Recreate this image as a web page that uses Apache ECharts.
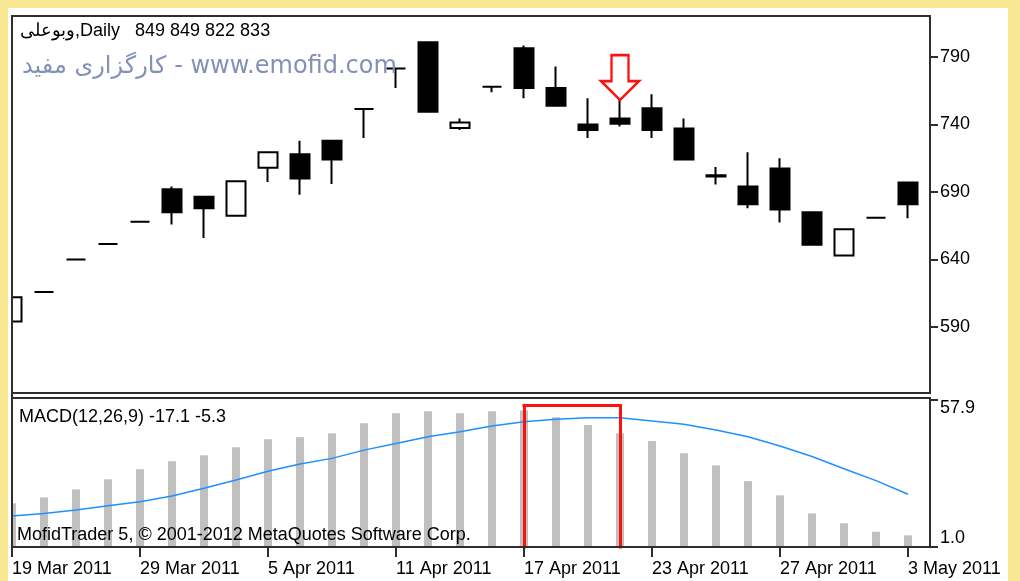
<!DOCTYPE html>
<html>
<head>
<meta charset="utf-8">
<script src="https://cdn.jsdelivr.net/npm/echarts@6/dist/echarts.min.js"></script>
<style>
  html, body { margin: 0; padding: 0; background: #f8e892; }
  #chart { width: 1020px; height: 581px; }
</style>
</head>
<body>
<div id="chart"></div>
<script>
// trading days shown on the chart
const dates = ['19 Mar 2011','20 Mar 2011','27 Mar 2011','28 Mar 2011','29 Mar 2011','30 Mar 2011',
  '3 Apr 2011','4 Apr 2011','5 Apr 2011','6 Apr 2011','9 Apr 2011','10 Apr 2011','11 Apr 2011',
  '12 Apr 2011','13 Apr 2011','16 Apr 2011','17 Apr 2011','18 Apr 2011','19 Apr 2011','20 Apr 2011',
  '23 Apr 2011','24 Apr 2011','25 Apr 2011','26 Apr 2011','27 Apr 2011','30 Apr 2011','1 May 2011',
  '2 May 2011','3 May 2011'];

// daily candles
const opens  = [594, 616, 640, 651.5, 668, 692, 686.5, 672.5, 708, 718, 728, 751.5, 781.5, 801, 737.5,
  768, 796.5, 767, 740, 744.5, 752, 737, 702.5, 694, 707.5, 675, 643, 671, 697];
const closes = [612, 616, 640, 651.5, 668, 675, 678, 698, 719.5, 700, 714, 751.5, 781.5, 749.5, 741.5,
  768, 767, 754, 736, 740.5, 736, 714, 701.5, 681, 677, 651, 662.5, 671, 681];
const lows   = [594, 616, 640, 651.5, 668, 666, 656, 672.5, 697.5, 688, 696, 730, 767, 749.5, 736,
  764, 759.5, 754, 730, 738.5, 730, 714, 695.5, 678, 667.5, 651, 643, 671, 670.5];
const highs  = [612, 616, 640, 651.5, 668, 694, 686.5, 698, 719.5, 728, 728, 751.5, 781.5, 801, 744.5,
  768, 798.5, 783, 759.5, 759, 762.5, 744.5, 708.5, 719.5, 715, 675, 662.5, 671, 697];

// MACD(12,26,9) panel
const macdHist   = [17.9, 20.2, 23.3, 27.2, 31.1, 34.2, 36.5, 39.6, 42.7, 43.5, 45.0, 48.9, 52.8, 53.5,
  52.8, 53.5, 53.8, 51.2, 48.2, 45.0, 42.0, 37.3, 32.6, 26.5, 21.0, 14.0, 10.2, 6.9, 5.5];
const macdSignal = [13.0, 14.0, 15.3, 17.0, 18.5, 20.7, 23.7, 26.9, 30.3, 33.1, 35.3, 38.5, 41.1, 43.7,
  45.6, 47.8, 49.5, 50.4, 51.0, 51.0, 49.8, 48.5, 46.3, 43.7, 40.1, 36.0, 31.3, 26.7, 21.4];

const priceTicks = [590, 640, 690, 740, 790];
const macdTicks = [1.0, 57.9];
const dateTicks = [0, 4, 8, 12, 16, 20, 24, 28];

const FONT = 'Liberation Sans, Arial, sans-serif';
const LINE = '#2e2e2e';
const RED = '#ff1010';

let candleData = opens.map((o, i) => [i, o, closes[i], lows[i], highs[i]]);
let histData = macdHist.map((v, i) => [i, v]);
let signalData = macdSignal.map((v, i) => [i, v]);

let chart = echarts.init(document.getElementById('chart'));

let option = {
  animation: false,
  backgroundColor: '#f8e892',
  graphic: [
    { type: 'rect', z: -10, shape: { x: 8, y: 8, width: 1000, height: 600 }, style: { fill: '#ffffff' } },
    // cover what sticks out left of the panels (first bar is only half inside)
    { type: 'rect', z: 90, shape: { x: 0, y: 16, width: 8, height: 540 }, style: { fill: '#f8e892' } },
    { type: 'rect', z: 90, shape: { x: 8, y: 16, width: 3, height: 540 }, style: { fill: '#ffffff' } },
    { type: 'line', z: 91, shape: { x1: 12, y1: 15, x2: 12, y2: 557 }, style: { stroke: LINE, lineWidth: 2 } },
    { type: 'text', z: 100, style: { x: 20, y: 31, text: 'وبوعلی,Daily   849 849 822 833',
        font: '18px ' + FONT, fill: '#000', verticalAlign: 'middle' } },
    { type: 'text', z: 100, style: { x: 22, y: 67, text: 'کارگزاری مفید - www.emofid.com',
        font: '24px DejaVu Sans, sans-serif', fill: '#8391b6', verticalAlign: 'middle' } },
    { type: 'text', z: 100, style: { x: 19, y: 417, text: 'MACD(12,26,9) -17.1 -5.3',
        font: '18px ' + FONT, fill: '#000', verticalAlign: 'middle' } },
    { type: 'text', z: 100, style: { x: 17, y: 535, text: 'MofidTrader 5, © 2001-2012 MetaQuotes Software Corp.',
        font: '18px ' + FONT, fill: '#000', verticalAlign: 'middle' } }
  ],
  grid: [
    { left: 12, right: 90, top: 16, height: 377, show: true, backgroundColor: '#fff',
      borderColor: LINE, borderWidth: 2 },
    { left: 12, right: 90, top: 398, height: 149, show: true, backgroundColor: '#fff',
      borderColor: LINE, borderWidth: 2 }
  ],
  xAxis: [
    { gridIndex: 0, type: 'value', min: 0, max: 28.6875,
      axisLine: { show: false }, axisTick: { show: false }, axisLabel: { show: false },
      splitLine: { show: false } },
    { gridIndex: 1, type: 'value', min: 0, max: 28.6875, z: 10,
      axisLine: { show: true, onZero: false, lineStyle: { color: LINE, width: 2 } },
      axisTick: { show: true, customValues: dateTicks, length: 10, lineStyle: { color: LINE, width: 2 } },
      axisLabel: { customValues: dateTicks, formatter: v => dates[v], align: 'left', margin: 13,
        color: '#000', fontSize: 18, fontFamily: FONT },
      splitLine: { show: false } }
  ],
  yAxis: [
    { gridIndex: 0, type: 'value', position: 'right', min: 541.1, max: 820.4, scale: true,
      axisLine: { show: true, onZero: false, lineStyle: { color: LINE, width: 2 } },
      axisTick: { show: true, customValues: priceTicks, length: 8, lineStyle: { color: LINE, width: 2 } },
      axisLabel: { customValues: priceTicks, margin: 10, color: '#000', fontSize: 18, fontFamily: FONT },
      splitLine: { show: false } },
    { gridIndex: 1, type: 'value', position: 'right', min: 1.0, max: 58.67,
      axisLine: { show: true, onZero: false, lineStyle: { color: LINE, width: 2 } },
      axisTick: { show: true, customValues: macdTicks, length: 8, lineStyle: { color: LINE, width: 2 } },
      axisLabel: { customValues: macdTicks, margin: 10, color: '#000', fontSize: 18, fontFamily: FONT,
        formatter: v => v > 30 ? '{top|' + v.toFixed(1) + '}' : '{bot|' + v.toFixed(1) + '}',
        rich: {
          top: { padding: [16, 0, 0, 0], fontSize: 18, fontFamily: FONT, color: '#000' },
          bot: { padding: [0, 0, 18, 0], fontSize: 18, fontFamily: FONT, color: '#000' }
        } },
      splitLine: { show: false } }
  ],
  series: [
    {
      name: 'price', type: 'candlestick', xAxisIndex: 0, yAxisIndex: 0,
      data: candleData, encode: { x: 0, y: [1, 2, 3, 4] },
      barWidth: 20,
      itemStyle: { color: '#fff', color0: '#000', borderColor: '#000', borderColor0: '#000',
        borderColorDoji: '#000', borderWidth: 2 },
      markPoint: {
        silent: true,
        symbol: 'path://M10.5,0 L27.5,0 L27.5,26 L38,26 L19,45 L0,26 L10.5,26 Z',
        symbolSize: [38, 45],
        itemStyle: { color: '#fff', borderColor: RED, borderWidth: 2.5 },
        label: { show: false },
        data: [{ coord: [19, 774.8] }]
      }
    },
    {
      name: 'hist', type: 'bar', xAxisIndex: 1, yAxisIndex: 1,
      data: histData, barWidth: 8,
      itemStyle: { color: '#c0c0c0' },
      markLine: {
        silent: true,
        symbol: 'none',
        label: { show: false },
        lineStyle: { color: RED, width: 3, type: 'solid', cap: 'square' },
        data: [
          [{ coord: [16, 1.0] }, { coord: [16, 55.7] }],
          [{ coord: [16, 55.7] }, { coord: [19, 55.7] }],
          [{ coord: [19, 55.7] }, { coord: [19, 1.0] }]
        ]
      }
    },
    {
      name: 'signal', type: 'line', xAxisIndex: 1, yAxisIndex: 1,
      data: signalData, showSymbol: false,
      lineStyle: { color: '#1e90ff', width: 1.5 }
    }
  ]
};

chart.setOption(option);
</script>
</body>
</html>
